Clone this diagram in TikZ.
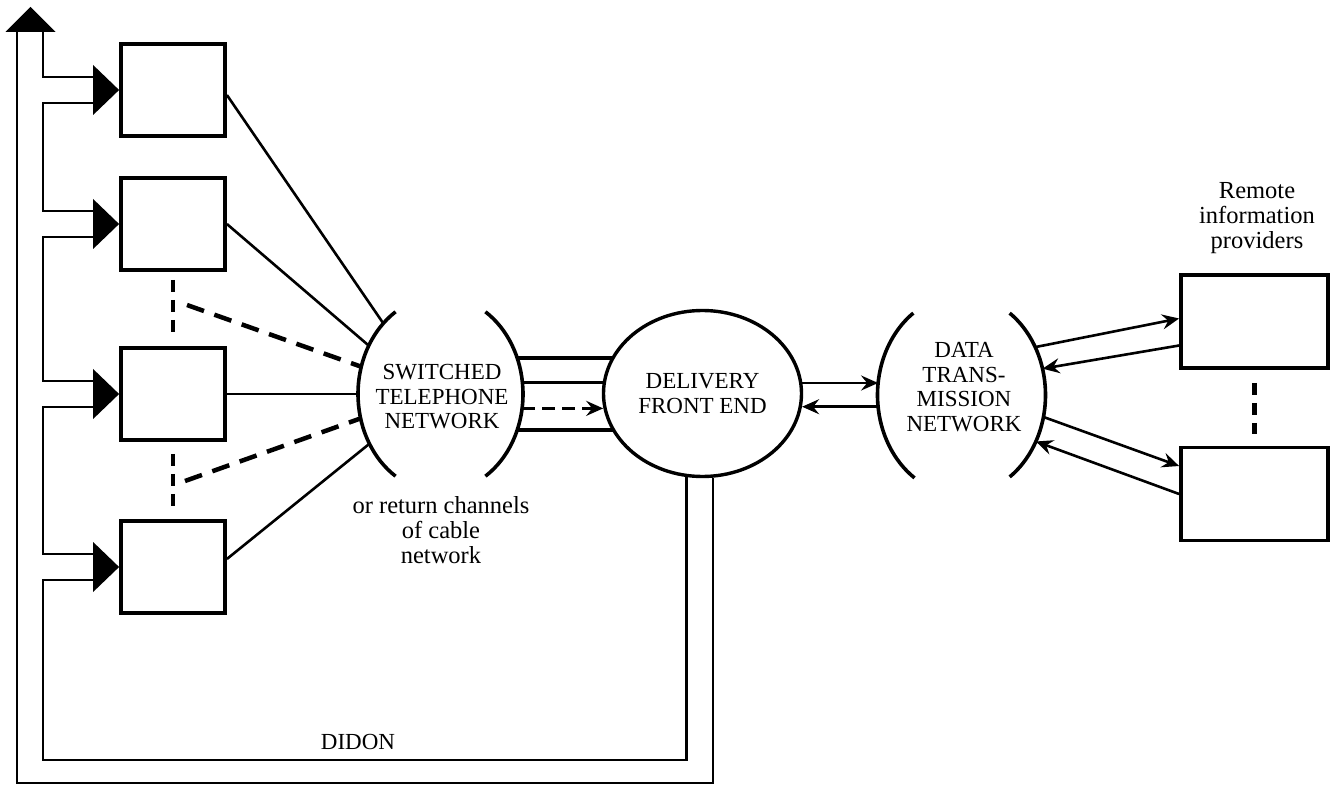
\documentclass[tikz,border=0pt]{standalone}
\usepackage{fontspec}
\setmainfont{Liberation Serif}
\usetikzlibrary{arrows.meta,shapes.geometric}
\begin{document}
\begin{tikzpicture}[x=1pt,y=-1pt,
  >={Stealth[length=17pt,width=15pt,inset=6pt]},
  box/.style={draw,line width=3.8pt,minimum width=104pt,minimum height=92pt,inner sep=0pt},
  rbox/.style={draw,line width=3.8pt,minimum width=147pt,minimum height=93pt,inner sep=0pt},
  conn/.style={line width=2.6pt},
  thickconn/.style={line width=3.4pt},
  dashconn/.style={line width=4.5pt,dash pattern=on 18pt off 11pt},
  vdash/.style={line width=4.5pt,dash pattern=on 12pt off 8pt},
  arrdash/.style={line width=3.6pt,dash pattern=on 13pt off 7pt},
  busline/.style={line width=2.6pt},
  arcline/.style={line width=3.6pt},
  caps/.style={align=center,font=\fontsize{23}{24.5}\selectfont,inner sep=0pt},
  lower/.style={align=center,font=\fontsize{24.5}{25}\selectfont,inner sep=0pt},
  net/.style={ellipse,inner sep=0pt,outer sep=0pt}
]
\useasboundingbox (0,0) rectangle (1334,786);

% boxes
\node[box] (b1) at (173,90) {};
\node[box] (b2) at (173,224) {};
\node[box] (b3) at (173,394) {};
\node[box] (b4) at (173,567) {};
\node[rbox] (r1) at (1254.5,321.5) {};
\node[rbox] (r2) at (1254.5,494) {};

% networks
\node[net,minimum width=165pt,minimum height=196pt] (stn) at (440.5,394) {};
\node[net,minimum width=168pt,minimum height=200pt] (dtn) at (961.5,395) {};

% connectors STN -> DFE (drawn before DFE)
\draw[thickconn] (stn.25) -- (stn.25 -| 702.5,0);
\draw[conn] (stn.8) -- (stn.8 -| 702.5,0);
\draw[thickconn] (stn.335) -- (stn.335 -| 702.5,0);

\node[ellipse,draw,line width=3.4pt,fill=white,minimum width=198pt,minimum height=166pt,inner sep=0pt,caps] (dfe) at (702.5,393.5) {DELIVERY\\FRONT END};

\draw[arrdash,->] (stn.350) -- (stn.350 -| dfe.188);

% arcs
\draw[arcline] (stn.center) ++(123:82.5pt and 98pt) arc[start angle=123,end angle=237,x radius=82.5pt,y radius=98pt];
\draw[arcline] (stn.center) ++(-57:82.5pt and 98pt) arc[start angle=-57,end angle=57,x radius=82.5pt,y radius=98pt];
\draw[arcline] (dtn.center) ++(125:84pt and 100pt) arc[start angle=125,end angle=236,x radius=84pt,y radius=100pt];
\draw[arcline] (dtn.center) ++(-55:84pt and 100pt) arc[start angle=-55,end angle=55,x radius=84pt,y radius=100pt];

% labels
\node[caps] (stnt) at (442,397) {SWITCHED\\TELEPHONE\\NETWORK};
\node[caps] (dtnt) at (964,387) {DATA\\TRANS-\\MISSION\\NETWORK};
\node[lower] (ret) at (441,530) {or return channels\\of cable\\network};
\node[lower] (rip) at (1257,218) {Remote\\information\\providers};
\node[caps] (didon) at (358,742) {DIDON};

% boxes to STN
\draw[conn] ([yshift=-5pt]b1.east) -- (stn.129);
\draw[conn] (b2.east) -- (stn.146);
\draw[conn] (b3.east) -- (stn.180);
\draw[conn] ([yshift=8pt]b4.east) -- (stn.215);
\coordinate (d1) at (187,305);
\coordinate (d2) at (185,481);
\draw[dashconn] (d1) -- (stn.161);
\draw[dashconn] (d2) -- (stn.197);
\draw[vdash] ([yshift=-8pt]b2.south) -- ([yshift=14pt]b3.north);
\draw[vdash] ([yshift=-12pt]b3.south) -- ([yshift=12pt]b4.north);
\draw[vdash] ([yshift=-13pt]r1.south) -- ([yshift=12pt]r2.north);

% DFE <-> DTN
\draw[conn,->] (dfe.6) -- (dfe.6 -| dtn.172);
\draw[conn,->] (dtn.188) -- (dtn.188 -| dfe.353);

% DTN <-> remote
\draw[conn,->] (dtn.33) -- ([yshift=3pt]r1.west);
\draw[conn,->] ([yshift=-24pt]r1.west) -- (dtn.18);
\draw[conn,->] (dtn.345) -- ([yshift=28pt]r2.west);
\draw[conn,->] (r2.west) -- (dtn.328);

% bus
\coordinate (bus) at (43,0);
\coordinate (outer) at (17,0);
\coordinate (tbase) at (30.5,32);
\coordinate (tip) at (30.5,7);
\coordinate (ibot) at (0,760);
\coordinate (obot) at (0,783);
\foreach \i in {1,2,3,4}{
  \coordinate (a\i) at ([xshift=-26pt]b\i.west);
  \coordinate (u\i) at ([yshift=13pt]a\i);
  \coordinate (l\i) at ([yshift=-13pt]a\i);
  \fill (b\i.west) -- ([yshift=25pt]a\i) -- ([yshift=-25pt]a\i) -- cycle;
}
\draw[busline] (u1) -| (bus |- tbase);
\draw[busline] (l1) -| (bus |- u2) -- (u2);
\draw[busline] (l2) -| (bus |- u3) -- (u3);
\draw[busline] (l3) -| (bus |- u4) -- (u4);
\draw[busline] (l4) -| (bus |- ibot) -| (dfe.259);
\draw[busline] (outer |- tbase) -- (outer |- obot) -| (dfe.277);
\fill (tip) -- ([xshift=-25pt]tbase) -- ([xshift=25pt]tbase) -- cycle;
\end{tikzpicture}
\end{document}
